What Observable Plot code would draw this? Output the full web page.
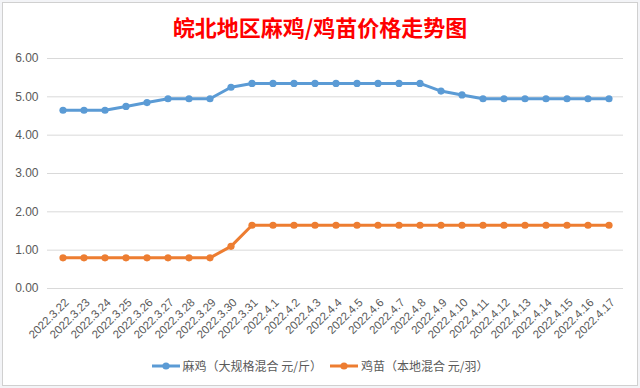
<!DOCTYPE html>
<html>
<head>
<meta charset="utf-8">
<script src="https://cdn.jsdelivr.net/npm/d3@7"></script>
<script src="https://cdn.jsdelivr.net/npm/@observablehq/plot@0.6"></script>
<style>
  html, body { margin: 0; padding: 0; background: #ffffff; }
  #wrap { position: relative; width: 640px; height: 388px; overflow: hidden; background: #f3f4f7; }
  #chart { position: absolute; left: 2px; top: 2px; width: 634px; height: 382px; border: 1px solid #d0d0d0; background: #fff; }
  #title { position: absolute; left: 0; top: 12px; width: 640px; text-align: center;
           font-family: "Noto Sans CJK SC", sans-serif; font-weight: 700; font-size: 22px; color: #ff0000; line-height: 28px; }
  #plot { position: absolute; left: 0; top: 0; }
  #legend { position: absolute; left: 0; top: 357px; width: 640px; display: flex; justify-content: center; align-items: center;
            font-family: "Noto Sans CJK SC", sans-serif; font-size: 12px; color: #595959; }
  .item { display: flex; align-items: center; margin: 0 4px; }
  .item svg { margin-right: 3px; }
</style>
</head>
<body>
<div id="wrap">
  <div id="chart"></div>
  <div id="title"></div>
  <div id="plot"></div>
  <div id="legend"></div>
</div>
<script>
const titleText = "皖北地区麻鸡/鸡苗价格走势图";
const dates = ["2022.3.22","2022.3.23","2022.3.24","2022.3.25","2022.3.26","2022.3.27","2022.3.28","2022.3.29","2022.3.30","2022.3.31",
  "2022.4.1","2022.4.2","2022.4.3","2022.4.4","2022.4.5","2022.4.6","2022.4.7","2022.4.8","2022.4.9","2022.4.10",
  "2022.4.11","2022.4.12","2022.4.13","2022.4.14","2022.4.15","2022.4.16","2022.4.17"];
const maji = [4.65,4.65,4.65,4.75,4.85,4.95,4.95,4.95,5.25,5.35,
  5.35,5.35,5.35,5.35,5.35,5.35,5.35,5.35,5.15,5.05,
  4.95,4.95,4.95,4.95,4.95,4.95,4.95];
const jimiao = [0.8,0.8,0.8,0.8,0.8,0.8,0.8,0.8,1.1,1.65,
  1.65,1.65,1.65,1.65,1.65,1.65,1.65,1.65,1.65,1.65,
  1.65,1.65,1.65,1.65,1.65,1.65,1.65];
const seriesNames = ["麻鸡（大规格混合 元/斤）", "鸡苗（本地混合 元/羽）"];
const seriesColors = ["#5b9bd5", "#ed7d31"];
const yTicks = [0, 1, 2, 3, 4, 5, 6];

const rows = [];
dates.forEach((d, i) => {
  rows.push({date: d, value: maji[i], series: seriesNames[0]});
  rows.push({date: d, value: jimiao[i], series: seriesNames[1]});
});

document.getElementById("title").textContent = titleText;

const chart = Plot.plot({
  width: 640,
  height: 345,
  marginTop: 58,
  marginBottom: 57,
  marginLeft: 47,
  marginRight: 17,
  style: {fontFamily: "'Liberation Sans', Arial, sans-serif", fontSize: "12px", color: "#595959", background: "transparent"},
  x: {type: "band", domain: dates, padding: 0, align: 0.5, label: null},
  y: {domain: [0, 6], label: null},
  color: {domain: seriesNames, range: seriesColors},
  marks: [
    Plot.gridY(yTicks, {stroke: "#d9d9d9", strokeOpacity: 1, strokeWidth: 1}),
    Plot.axisY(yTicks, {tickSize: 0, tickPadding: 9, tickFormat: d3.format(".2f"), fill: "#595959", fontSize: 12, label: null}),
    Plot.axisX({tickSize: 0, tickRotate: -45, tickPadding: 12, fill: "#595959", fontSize: 11.5, label: null, dx: 4}),
    Plot.line(rows, {x: "date", y: "value", z: "series", stroke: "series", strokeWidth: 3, curve: "linear"}),
    Plot.dot(rows, {x: "date", y: "value", fill: "series", r: 3.6, stroke: null})
  ]
});
document.getElementById("plot").appendChild(chart);

const legend = document.getElementById("legend");
seriesNames.forEach((name, i) => {
  const item = document.createElement("div");
  item.className = "item";
  item.innerHTML = `<svg width="28" height="10"><line x1="0" y1="5" x2="28" y2="5" stroke="${seriesColors[i]}" stroke-width="3"/><circle cx="14" cy="5" r="3.6" fill="${seriesColors[i]}"/></svg><span>${name}</span>`;
  legend.appendChild(item);
});
</script>
</body>
</html>
